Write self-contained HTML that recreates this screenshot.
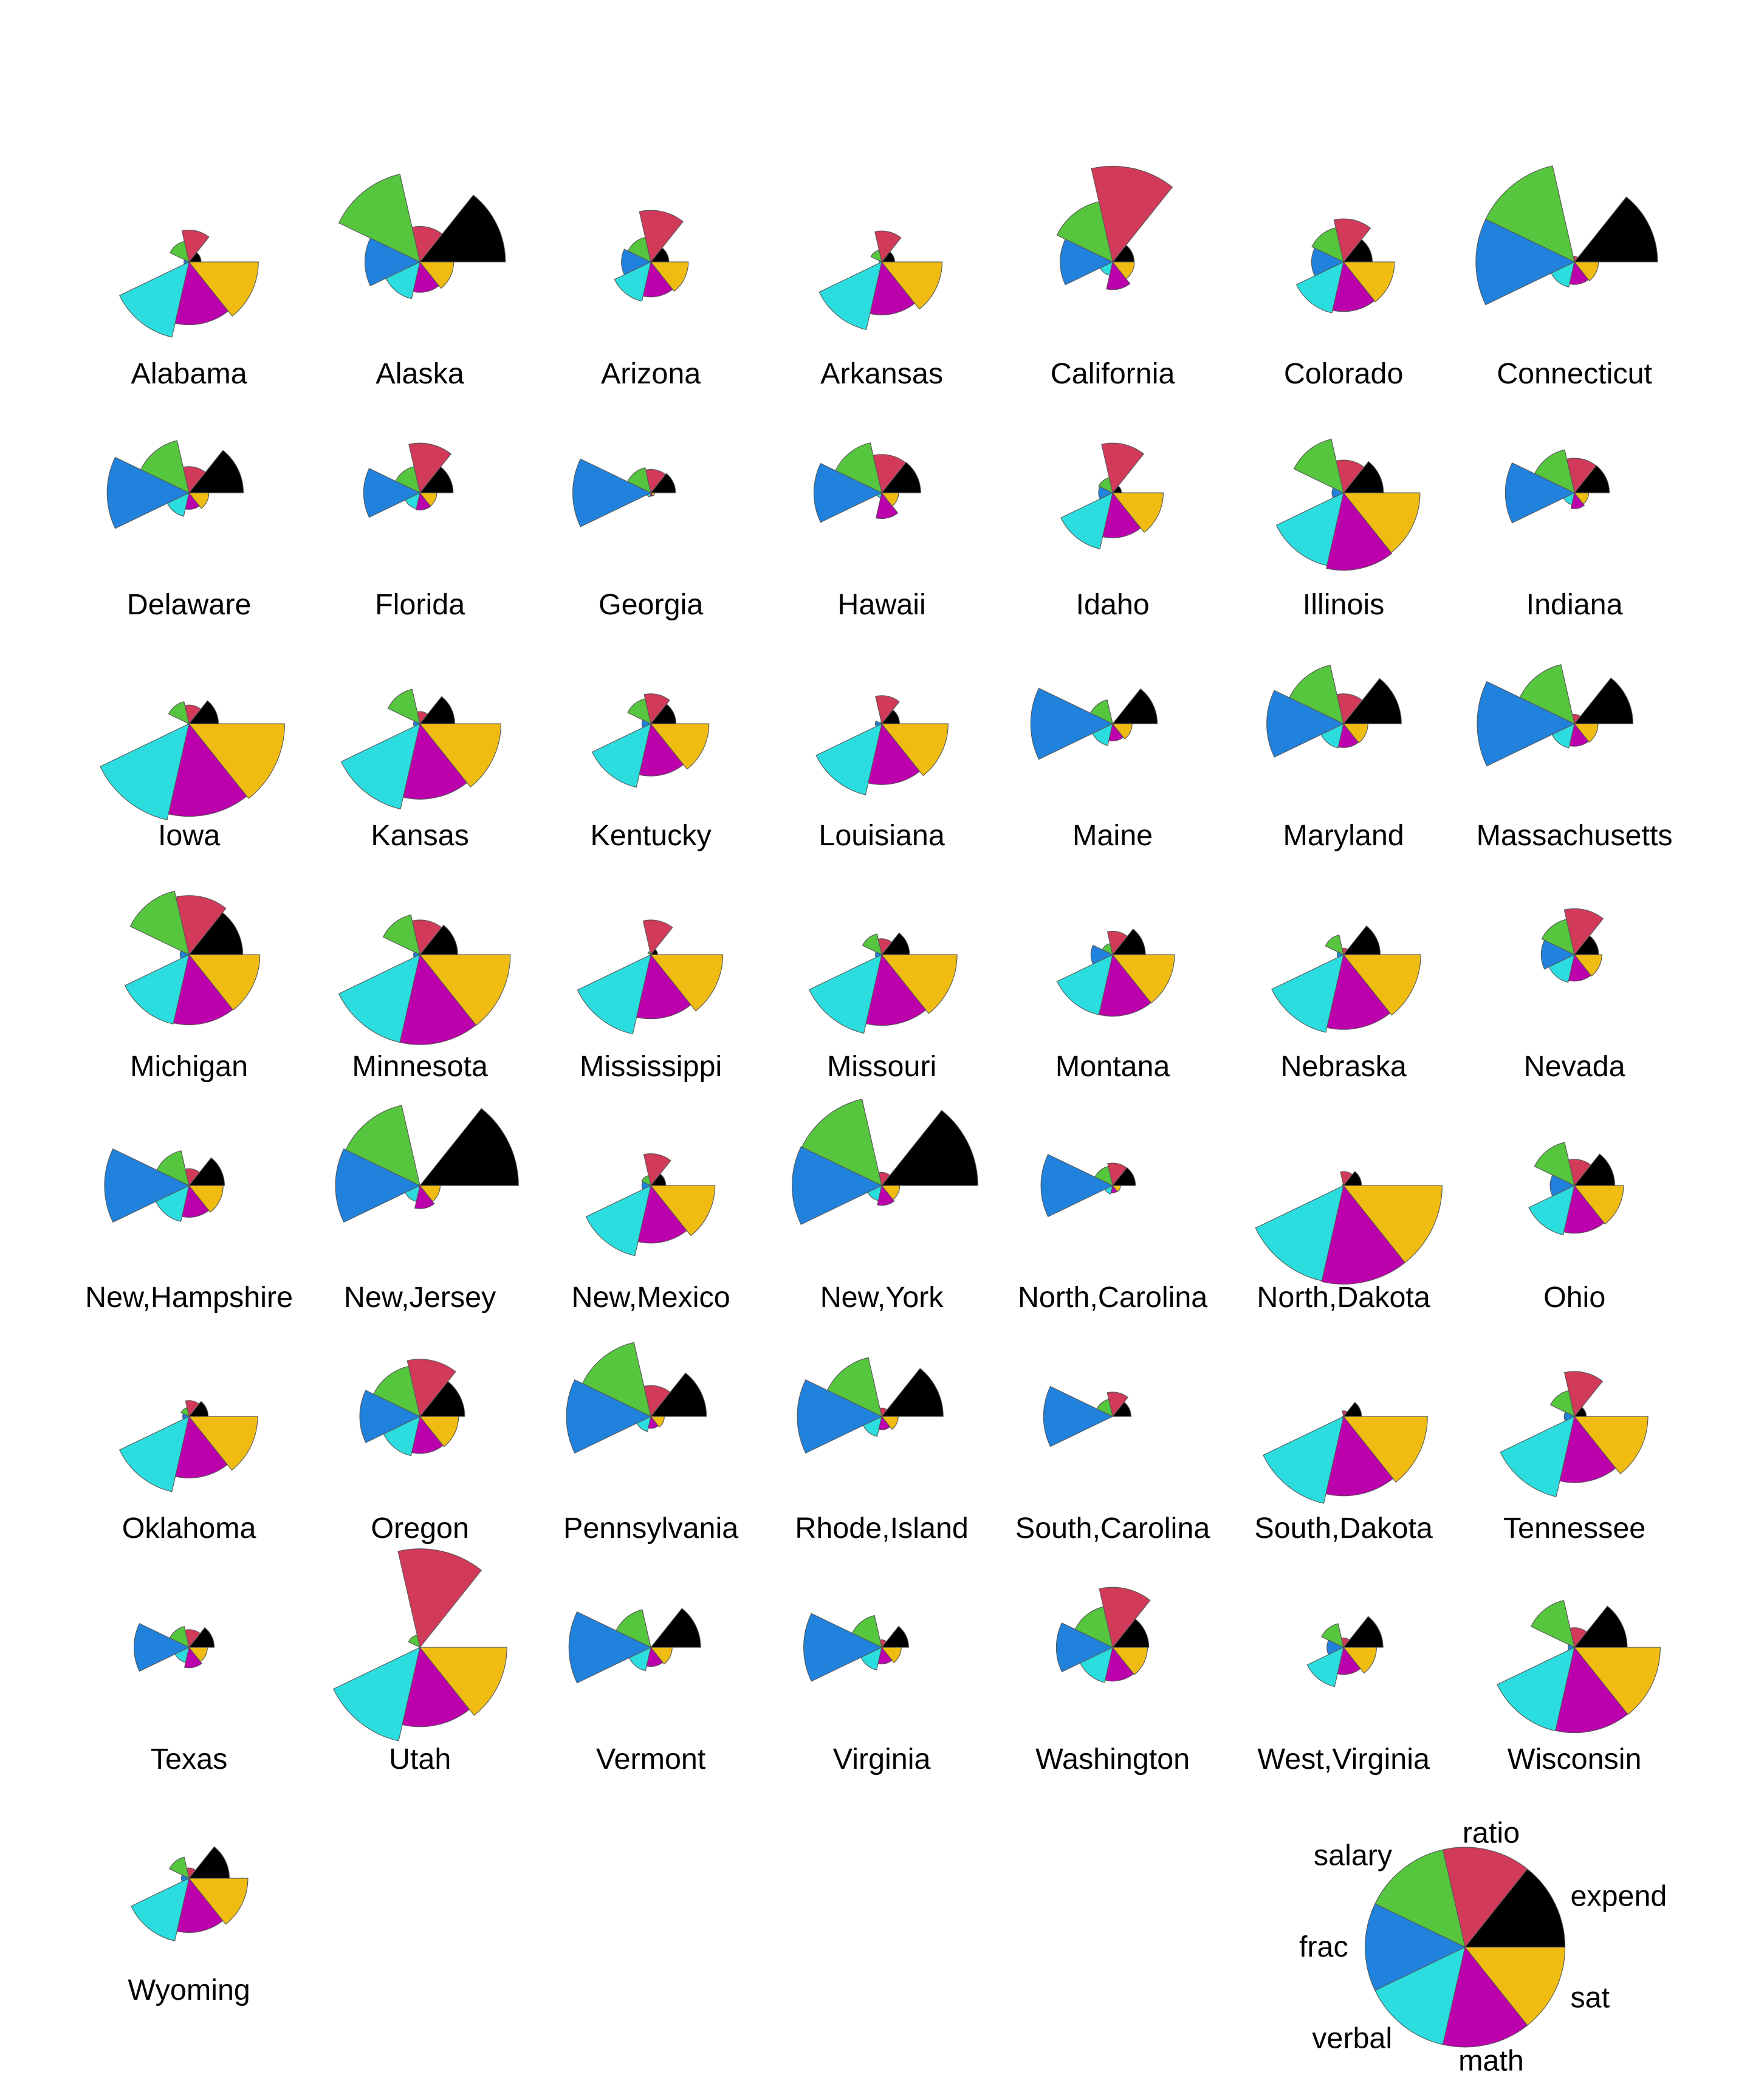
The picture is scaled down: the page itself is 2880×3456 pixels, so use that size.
<!DOCTYPE html>
<html><head><meta charset="utf-8"><style>
html,body{margin:0;padding:0;background:#fff}
svg{display:block}
text{font-family:"Liberation Sans",Arial,sans-serif;fill:#000}
</style></head><body>
<svg id="chart" width="2880" height="3456" viewBox="0 0 1296 1555.2" xmlns="http://www.w3.org/2000/svg"></svg>
<script>
const states = ["Alabama","Alaska","Arizona","Arkansas","California","Colorado","Connecticut","Delaware","Florida","Georgia","Hawaii","Idaho","Illinois","Indiana","Iowa","Kansas","Kentucky","Louisiana","Maine","Maryland","Massachusetts","Michigan","Minnesota","Mississippi","Missouri","Montana","Nebraska","Nevada","New,Hampshire","New,Jersey","New,Mexico","New,York","North,Carolina","North,Dakota","Ohio","Oklahoma","Oregon","Pennsylvania","Rhode,Island","South,Carolina","South,Dakota","Tennessee","Texas","Utah","Vermont","Virginia","Washington","West,Virginia","Wisconsin","Wyoming"];
const expend = [4.405,8.963,4.778,4.459,4.992,5.443,8.817,7.030,5.718,5.193,6.078,4.210,6.136,5.826,5.483,5.817,5.217,4.761,6.428,7.245,7.287,6.994,6.000,4.080,5.383,5.692,5.935,5.160,5.859,9.774,4.586,9.623,5.077,4.775,6.162,4.845,6.436,7.109,7.469,4.797,4.775,4.388,5.222,3.656,6.750,5.327,5.906,6.107,6.930,6.160];
const ratio = [17.2,17.6,19.3,17.1,24.0,18.4,14.4,16.6,19.1,16.3,17.9,19.1,17.3,17.5,15.8,15.1,17.0,16.8,13.8,17.0,14.8,20.1,17.5,17.5,15.5,16.3,14.5,18.7,15.6,13.8,17.2,15.2,16.2,15.3,16.6,15.5,19.9,17.1,14.7,16.4,14.4,18.6,15.7,24.3,13.8,14.6,20.2,14.8,15.9,14.9];
const salary = [31.144,47.951,32.175,28.934,41.078,34.571,50.045,39.076,32.588,32.291,38.518,29.783,39.431,36.785,31.511,34.652,32.257,26.461,31.972,40.661,40.795,41.895,35.948,26.818,31.189,28.785,30.922,34.836,34.720,46.087,28.493,47.612,30.793,26.327,36.802,28.172,38.555,44.510,40.729,30.279,25.994,32.477,31.223,29.082,35.406,33.987,36.151,31.944,37.746,31.285];
const frac = [8,47,27,6,45,29,81,68,48,65,57,15,13,58,5,9,11,9,68,64,80,11,9,4,9,21,9,30,70,70,11,74,60,5,23,9,51,70,70,58,5,12,47,4,68,65,48,17,9,10];
const verbal = [491,445,448,482,417,462,431,429,420,406,407,468,488,415,516,503,477,486,427,430,430,484,506,496,495,473,494,434,444,420,485,419,411,515,460,491,448,419,425,401,505,497,419,513,429,428,443,448,501,476];
const math = [538,489,496,523,485,518,477,468,469,448,482,511,560,467,583,557,522,535,469,479,477,549,579,540,550,536,556,483,491,478,530,473,454,592,515,536,499,461,463,443,563,543,474,563,472,468,494,484,572,525];
const sat = [1029,934,944,1005,902,980,908,897,889,854,889,979,1048,882,1099,1060,999,1021,896,909,907,1033,1085,1036,1045,1009,1050,917,935,898,1015,892,865,1107,975,1027,947,880,888,844,1068,1040,893,1076,901,896,937,932,1073,1001];
const varNames = ["expend","ratio","salary","frac","verbal","math","sat"];
const colors = ["#000000","#D23A5A","#55C63E","#2082DC","#2CDDDF","#BC00AC","#F0BC12"];

const svg = document.getElementById('chart');
const NS = "http://www.w3.org/2000/svg";
const R = 73;
const series = [expend, ratio, salary, frac, verbal, math, sat];
const mins = series.map(a => Math.min(...a));
const maxs = series.map(a => Math.max(...a));
function scaleVal(j, v){ return (v - mins[j]) / (maxs[j] - mins[j]); }
function wedge(cx, cy, r, j){
  const a1 = j * 2 * Math.PI / 7, a2 = (j + 1) * 2 * Math.PI / 7;
  const x1 = cx + r * Math.cos(a1), y1 = cy - r * Math.sin(a1);
  const x2 = cx + r * Math.cos(a2), y2 = cy - r * Math.sin(a2);
  return `M${cx},${cy}L${x1},${y1}A${r},${r} 0 0 0 ${x2},${y2}Z`;
}
function colX(c){ return 140 + c * 171; }
function rowY(r){ return 194 + r * 171; }

states.forEach((name, i) => {
  const cx = colX(i % 7), cy = rowY(Math.floor(i / 7));
  const g = document.createElementNS(NS, 'g');
  
  
  series.forEach((arr, j) => {
    const r = scaleVal(j, arr[i]) * R;
    if (r <= 0.01) return;
    const p = document.createElementNS(NS, 'path');
    p.setAttribute('d', wedge(cx, cy, r, j));
    p.setAttribute('fill', colors[j]);
    p.setAttribute('stroke', '#555');
    p.setAttribute('stroke-width', '0.5');
    
    
    g.appendChild(p);
  });
  const t = document.createElementNS(NS, 'text');
  t.setAttribute('x', cx);
  t.setAttribute('y', cy + 90);
  t.setAttribute('text-anchor', 'middle');
  t.setAttribute('font-size', '21.8');
  t.textContent = name;
  
  
  g.appendChild(t);
  svg.appendChild(g);
});

// key
const kx = 1085, ky = 1442, kr = 74;
const key = document.createElementNS(NS, 'g');


varNames.forEach((v, j) => {
  const p = document.createElementNS(NS, 'path');
  p.setAttribute('d', wedge(kx, ky, kr, j));
  p.setAttribute('fill', colors[j]);
  p.setAttribute('stroke', '#555');
  p.setAttribute('stroke-width', '0.5');
  
  
  key.appendChild(p);
  const am = (j + 0.5) * 2 * Math.PI / 7;
  const lx = kx + 1.17 * kr * Math.cos(am), ly = ky - 1.17 * kr * Math.sin(am);
  const t = document.createElementNS(NS, 'text');
  const c = Math.cos(am);
  t.setAttribute('x', lx);
  t.setAttribute('y', ly + 7);
  t.setAttribute('text-anchor', c > 0.3 ? 'start' : (c < -0.3 ? 'end' : 'middle'));
  t.setAttribute('font-size', '21.8');
  t.textContent = v;
  
  
  key.appendChild(t);
});
svg.appendChild(key);
</script>
</body></html>
